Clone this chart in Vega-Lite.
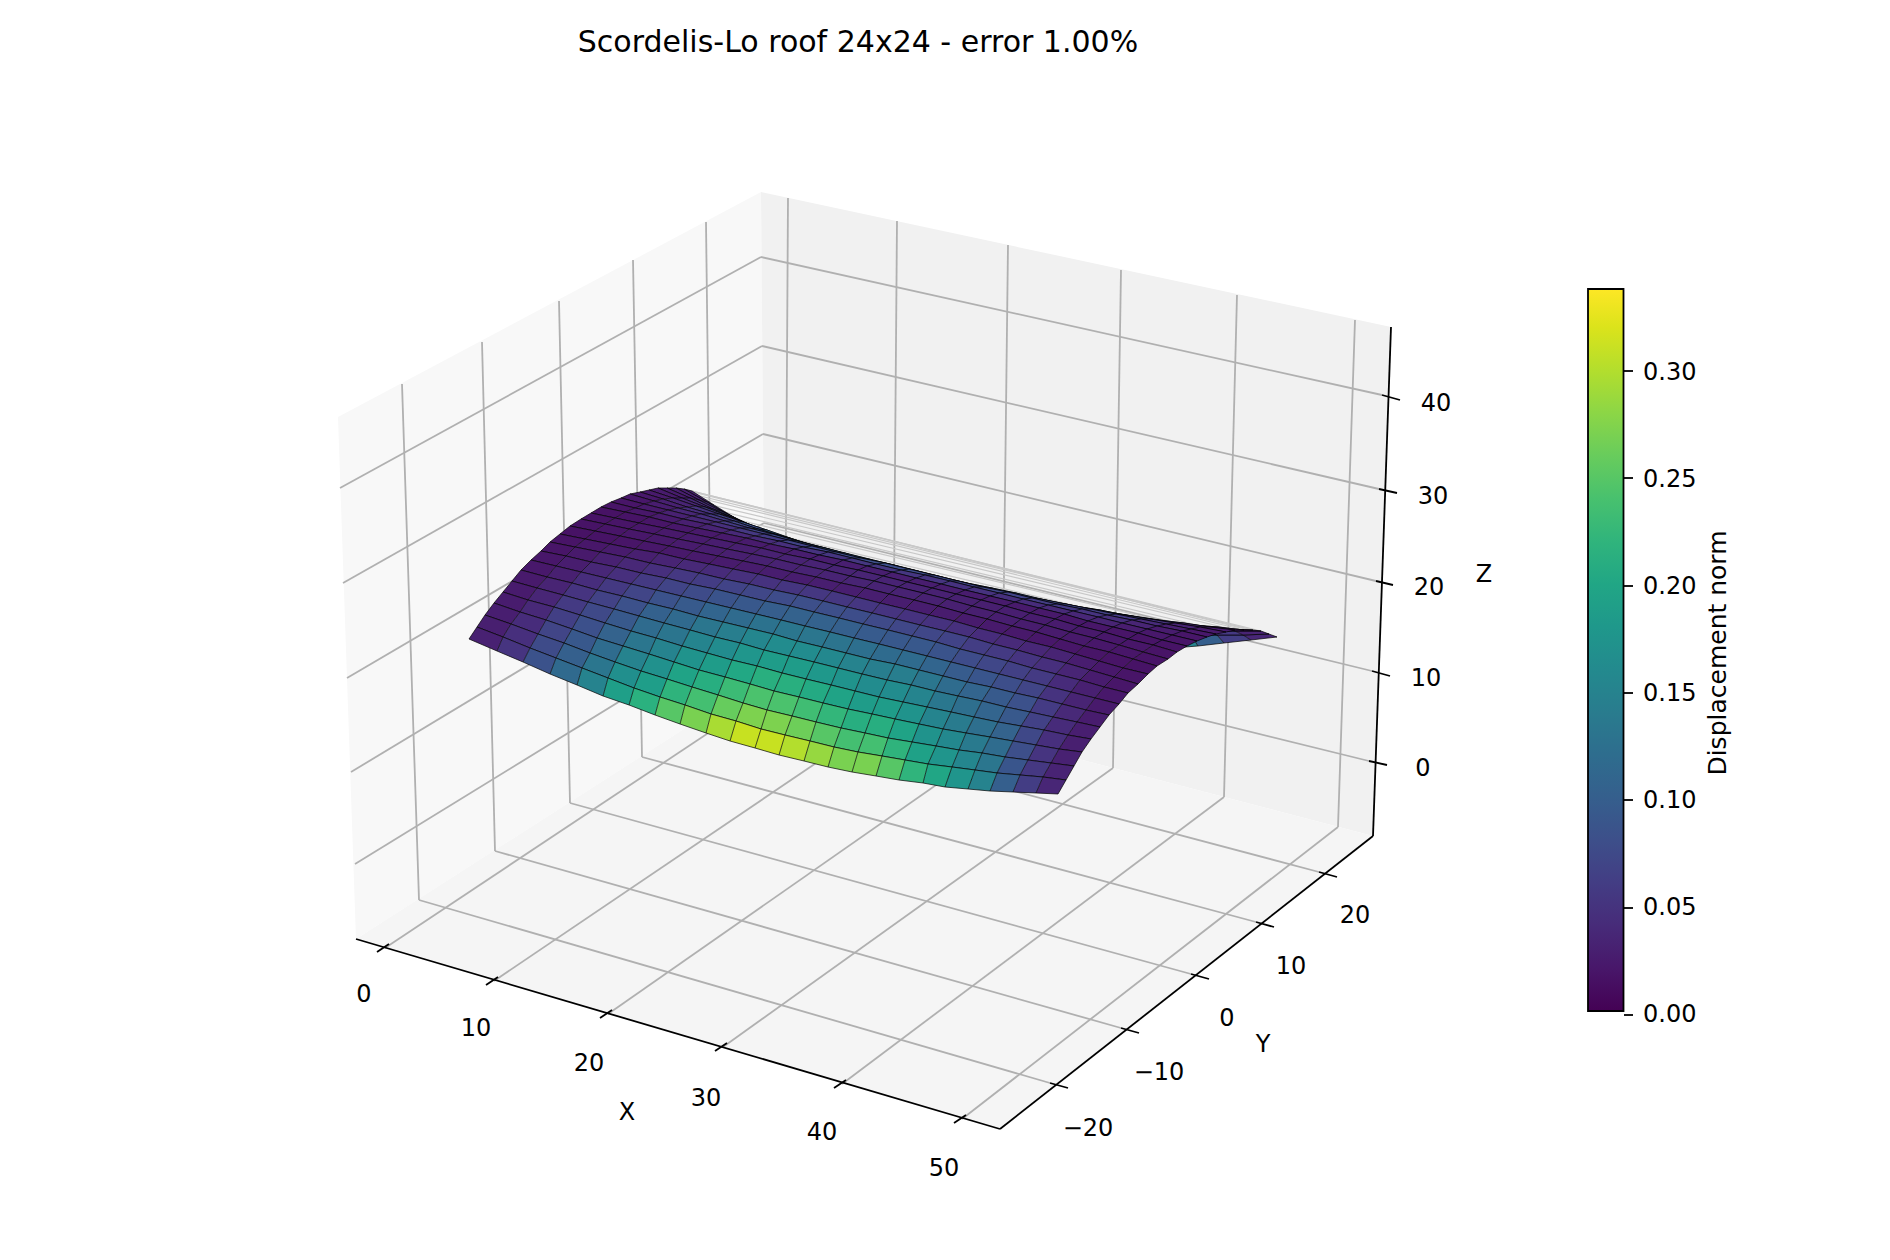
{
  "$schema": "https://vega.github.io/schema/vega-lite/v6.json",
  "width": 1890, "height": 1260, "padding": 0,
  "autosize": {"type": "none"},
  "background": "white",
  "config": {"view": {"stroke": null}, "text": {"font": "DejaVu Sans", "fontSize": 24, "color": "black"}},
  "title": {"text": "Scordelis-Lo roof 24x24 - error 1.00%", "font": "DejaVu Sans", "fontSize": 30, "fontWeight": "normal", "color": "black", "anchor": "middle", "frame": "group", "offset": 0, "dx": -87, "dy": 82, "baseline": "alphabetic"},
  "encoding": {
    "x": {"field": "x", "type": "quantitative", "scale": {"domain": [0, 1890], "nice": false, "zero": false}, "axis": null},
    "y": {"field": "y", "type": "quantitative", "scale": {"domain": [1260, 0], "nice": false, "zero": false}, "axis": null}
  },
  "layer": [
    {"data": {"values": [{"pane": "left", "x": [356, 338, 761, 765], "y": [939, 417, 192, 677]}]},
     "transform": [{"flatten": ["x", "y"]}],
     "mark": {"type": "line", "fill": "#f8f8f8", "strokeWidth": 0},
     "encoding": {"order": {"value": null}}},
    {"data": {"values": [{"pane": "back", "x": [765, 761, 1391, 1373], "y": [677, 192, 327, 836]}]},
     "transform": [{"flatten": ["x", "y"]}],
     "mark": {"type": "line", "fill": "#f1f1f1", "strokeWidth": 0},
     "encoding": {"order": {"value": null}}},
    {"data": {"values": [{"pane": "floor", "x": [356, 1000, 1373, 765], "y": [939, 1129, 836, 677]}]},
     "transform": [{"flatten": ["x", "y"]}],
     "mark": {"type": "line", "fill": "#f5f5f5", "strokeWidth": 0},
     "encoding": {"order": {"value": null}}},
    {"data": {"values": [
      {"x": 788, "y": 198, "x2": 785, "y2": 682},
      {"x": 897, "y": 221, "x2": 893, "y2": 711},
      {"x": 1008, "y": 245, "x2": 1002, "y2": 739},
      {"x": 1121, "y": 270, "x2": 1113, "y2": 768},
      {"x": 1237, "y": 295, "x2": 1224, "y2": 797},
      {"x": 1355, "y": 320, "x2": 1338, "y2": 827},
      {"x": 402, "y": 384, "x2": 419, "y2": 900},
      {"x": 482, "y": 342, "x2": 495, "y2": 851},
      {"x": 559, "y": 301, "x2": 570, "y2": 803},
      {"x": 633, "y": 260, "x2": 642, "y2": 757},
      {"x": 706, "y": 222, "x2": 712, "y2": 711},
      {"x": 340, "y": 488, "x2": 761, "y2": 257},
      {"x": 343, "y": 583, "x2": 762, "y2": 346},
      {"x": 347, "y": 678, "x2": 763, "y2": 434},
      {"x": 351, "y": 772, "x2": 764, "y2": 523},
      {"x": 355, "y": 864, "x2": 765, "y2": 612},
      {"x": 761, "y": 257, "x2": 1382, "y2": 395},
      {"x": 762, "y": 346, "x2": 1379, "y2": 489},
      {"x": 763, "y": 434, "x2": 1376, "y2": 581},
      {"x": 764, "y": 523, "x2": 1372, "y2": 671},
      {"x": 765, "y": 612, "x2": 1369, "y2": 761},
      {"x": 385, "y": 948, "x2": 785, "y2": 682},
      {"x": 494, "y": 981, "x2": 893, "y2": 711},
      {"x": 608, "y": 1014, "x2": 1002, "y2": 739},
      {"x": 723, "y": 1047, "x2": 1113, "y2": 768},
      {"x": 842, "y": 1084, "x2": 1224, "y2": 797},
      {"x": 962, "y": 1119, "x2": 1338, "y2": 827},
      {"x": 419, "y": 900, "x2": 1050, "y2": 1083},
      {"x": 495, "y": 851, "x2": 1121, "y2": 1028},
      {"x": 570, "y": 803, "x2": 1191, "y2": 974},
      {"x": 642, "y": 757, "x2": 1256, "y2": 922},
      {"x": 712, "y": 711, "x2": 1319, "y2": 872}
    ]},
     "mark": {"type": "rule", "color": "#b0b0b0", "strokeWidth": 1.8},
     "encoding": {"x2": {"field": "x2"}, "y2": {"field": "y2"}}},
    {"data": {"values": [
      {"x": 601, "y": 507, "x2": 1187, "y2": 646},
      {"x": 611, "y": 502, "x2": 1197, "y2": 641},
      {"x": 621, "y": 498, "x2": 1207, "y2": 637},
      {"x": 630, "y": 494, "x2": 1216, "y2": 634},
      {"x": 640, "y": 492, "x2": 1226, "y2": 632},
      {"x": 649, "y": 490, "x2": 1235, "y2": 630},
      {"x": 658, "y": 488, "x2": 1244, "y2": 630},
      {"x": 667, "y": 488, "x2": 1253, "y2": 630},
      {"x": 676, "y": 488, "x2": 1261, "y2": 631},
      {"x": 684, "y": 489, "x2": 1269, "y2": 634},
      {"x": 692, "y": 491, "x2": 1277, "y2": 637}
    ]},
     "mark": {"type": "rule", "color": "#c8c8c8", "strokeWidth": 1.2},
     "encoding": {"x2": {"field": "x2"}, "y2": {"field": "y2"}}},
    {"data": {"values": [
      {"x": 356, "y": 939, "x2": 1000, "y2": 1129},
      {"x": 1000, "y": 1129, "x2": 1373, "y2": 836},
      {"x": 1373, "y": 836, "x2": 1391, "y2": 327},
      {"x": 377, "y": 952, "x2": 389, "y2": 944},
      {"x": 486, "y": 985, "x2": 498, "y2": 977},
      {"x": 600, "y": 1018, "x2": 612, "y2": 1010},
      {"x": 715, "y": 1051, "x2": 727, "y2": 1043},
      {"x": 834, "y": 1088, "x2": 846, "y2": 1080},
      {"x": 954, "y": 1123, "x2": 966, "y2": 1115},
      {"x": 1050, "y": 1083, "x2": 1068, "y2": 1088},
      {"x": 1121, "y": 1028, "x2": 1139, "y2": 1033},
      {"x": 1191, "y": 974, "x2": 1209, "y2": 979},
      {"x": 1256, "y": 922, "x2": 1274, "y2": 927},
      {"x": 1319, "y": 872, "x2": 1337, "y2": 877},
      {"x": 1382, "y": 395, "x2": 1400, "y2": 400},
      {"x": 1379, "y": 489, "x2": 1397, "y2": 493},
      {"x": 1376, "y": 581, "x2": 1393, "y2": 585},
      {"x": 1372, "y": 671, "x2": 1390, "y2": 676},
      {"x": 1369, "y": 761, "x2": 1387, "y2": 765},
      {"x": 1624, "y": 1015, "x2": 1633, "y2": 1015},
      {"x": 1624, "y": 908, "x2": 1633, "y2": 908},
      {"x": 1624, "y": 800, "x2": 1633, "y2": 800},
      {"x": 1624, "y": 693, "x2": 1633, "y2": 693},
      {"x": 1624, "y": 586, "x2": 1633, "y2": 586},
      {"x": 1624, "y": 478, "x2": 1633, "y2": 478},
      {"x": 1624, "y": 371, "x2": 1633, "y2": 371}
    ]},
     "mark": {"type": "rule", "color": "black", "strokeWidth": 1.8},
     "encoding": {"x2": {"field": "x2"}, "y2": {"field": "y2"}}},
    {"data": {"values": [
      {"x": 364, "y": 995, "label": "0"},
      {"x": 476, "y": 1029, "label": "10"},
      {"x": 589, "y": 1064, "label": "20"},
      {"x": 706, "y": 1099, "label": "30"},
      {"x": 822, "y": 1133, "label": "40"},
      {"x": 944, "y": 1169, "label": "50"},
      {"x": 627, "y": 1113, "label": "X"},
      {"x": 1088, "y": 1129, "label": "−20"},
      {"x": 1159, "y": 1073, "label": "−10"},
      {"x": 1227, "y": 1019, "label": "0"},
      {"x": 1291, "y": 967, "label": "10"},
      {"x": 1355, "y": 916, "label": "20"},
      {"x": 1263, "y": 1045, "label": "Y"},
      {"x": 1436, "y": 404, "label": "40"},
      {"x": 1433, "y": 497, "label": "30"},
      {"x": 1429, "y": 588, "label": "20"},
      {"x": 1426, "y": 679, "label": "10"},
      {"x": 1423, "y": 769, "label": "0"},
      {"x": 1484, "y": 575, "label": "Z"}
    ]},
     "mark": {"type": "text", "baseline": "middle", "align": "center"},
     "encoding": {"text": {"field": "label"}}},
    {"data": {"values": [
      {"x": 1643, "y": 1015, "label": "0.00"},
      {"x": 1643, "y": 908, "label": "0.05"},
      {"x": 1643, "y": 801, "label": "0.10"},
      {"x": 1643, "y": 694, "label": "0.15"},
      {"x": 1643, "y": 587, "label": "0.20"},
      {"x": 1643, "y": 480, "label": "0.25"},
      {"x": 1643, "y": 373, "label": "0.30"}
    ]},
     "mark": {"type": "text", "baseline": "middle", "align": "left"},
     "encoding": {"text": {"field": "label"}}},
    {"data": {"values": [{"x": 1718, "y": 653, "label": "Displacement norm"}]},
     "mark": {"type": "text", "baseline": "middle", "align": "center", "angle": 270, "fontSize": 25},
     "encoding": {"text": {"field": "label"}}},
    {"data": {"values": [
{"n":0.03,"x":[707,684,692,714],"y":[502,489,491,505]},{"n":0.05,"x":[729,707,714,737],"y":[515,502,505,519]},{"n":0.085,"x":[752,729,737,759],"y":[527,515,519,532]},{"n":0.115,"x":[775,752,759,782],"y":[539,527,532,545]},{"n":0.15,"x":[798,775,782,804],"y":[551,539,545,558]},{"n":0.19,"x":[821,798,804,827],"y":[562,551,558,570]},{"n":0.215,"x":[844,821,827,850],"y":[572,562,570,581]},{"n":0.25,"x":[867,844,850,874],"y":[582,572,581,591]},{"n":0.27,"x":[891,867,874,897],"y":[591,582,591,601]},{"n":0.295,"x":[914,891,897,921],"y":[599,591,601,609]},{"n":0.31,"x":[939,914,921,945],"y":[606,599,609,617]},{"n":0.31,"x":[963,939,945,969],"y":[613,606,617,624]},{"n":0.3,"x":[987,963,969,993],"y":[618,613,624,629]},{"n":0.285,"x":[1012,987,993,1018],"y":[623,618,629,634]},{"n":0.27,"x":[1037,1012,1018,1043],"y":[627,623,634,637]},{"n":0.27,"x":[1062,1037,1043,1069],"y":[630,627,637,640]},{"n":0.25,"x":[1088,1062,1069,1094],"y":[632,630,640,642]},{"n":0.22,"x":[1113,1088,1094,1120],"y":[634,632,642,643]},{"n":0.2,"x":[1139,1113,1120,1146],"y":[635,634,643,643]},{"n":0.175,"x":[1165,1139,1146,1172],"y":[635,635,643,648]},{"n":0.15,"x":[1191,1165,1172,1198],"y":[635,635,648,646]},{"n":0.1,"x":[1217,1191,1198,1224],"y":[635,635,646,643]},{"n":0.06,"x":[1243,1217,1224,1251],"y":[635,635,643,640]},{"n":0.035,"x":[1269,1243,1251,1277,1269],"y":[634,635,640,637,634]},
{"n":0.028,"x":[699,676,684,707],"y":[500,488,489,502]},{"n":0.045,"x":[721,699,707,729],"y":[511,500,502,515]},{"n":0.076,"x":[744,721,729,752],"y":[522,511,515,527]},{"n":0.102,"x":[767,744,752,775],"y":[533,522,527,539]},{"n":0.132,"x":[790,767,775,798],"y":[544,533,539,551]},{"n":0.167,"x":[813,790,798,821],"y":[554,544,551,562]},{"n":0.189,"x":[837,813,821,844],"y":[564,554,562,572]},{"n":0.219,"x":[860,837,844,867],"y":[573,564,572,582]},{"n":0.237,"x":[884,860,867,891],"y":[581,573,582,591]},{"n":0.259,"x":[908,884,891,914],"y":[589,581,591,599]},{"n":0.272,"x":[932,908,914,939],"y":[596,589,599,606]},{"n":0.272,"x":[956,932,939,963],"y":[603,596,606,613]},{"n":0.263,"x":[981,956,963,987],"y":[608,603,613,618]},{"n":0.25,"x":[1005,981,987,1012],"y":[613,608,618,623]},{"n":0.237,"x":[1030,1005,1012,1037],"y":[617,613,623,627]},{"n":0.237,"x":[1055,1030,1037,1062],"y":[621,617,627,630]},{"n":0.219,"x":[1081,1055,1062,1088],"y":[624,621,630,632]},{"n":0.193,"x":[1106,1081,1088,1113],"y":[626,624,632,634]},{"n":0.176,"x":[1132,1106,1113,1139],"y":[628,626,634,635]},{"n":0.154,"x":[1157,1132,1139,1165],"y":[629,628,635,635]},{"n":0.132,"x":[1183,1157,1165,1191],"y":[630,629,635,635]},{"n":0.089,"x":[1209,1183,1191,1217],"y":[631,630,635,635]},{"n":0.054,"x":[1235,1209,1217,1243],"y":[631,631,635,635]},{"n":0.032,"x":[1261,1235,1243,1269,1261],"y":[631,631,635,634,631]},
{"n":0.027,"x":[690,667,676,699],"y":[498,488,488,500]},{"n":0.042,"x":[713,690,699,721],"y":[509,498,500,511]},{"n":0.069,"x":[736,713,721,744],"y":[519,509,511,522]},{"n":0.092,"x":[759,736,744,767],"y":[529,519,522,533]},{"n":0.119,"x":[783,759,767,790],"y":[538,529,533,544]},{"n":0.15,"x":[806,783,790,813],"y":[548,538,544,554]},{"n":0.169,"x":[829,806,813,837],"y":[557,548,554,564]},{"n":0.196,"x":[853,829,837,860],"y":[565,557,564,573]},{"n":0.211,"x":[877,853,860,884],"y":[573,565,573,581]},{"n":0.231,"x":[901,877,884,908],"y":[580,573,581,589]},{"n":0.242,"x":[925,901,908,932],"y":[587,580,589,596]},{"n":0.242,"x":[949,925,932,956],"y":[593,587,596,603]},{"n":0.234,"x":[974,949,956,981],"y":[599,593,603,608]},{"n":0.223,"x":[998,974,981,1005],"y":[604,599,608,613]},{"n":0.211,"x":[1023,998,1005,1030],"y":[608,604,613,617]},{"n":0.211,"x":[1048,1023,1030,1055],"y":[612,608,617,621]},{"n":0.196,"x":[1073,1048,1055,1081],"y":[616,612,621,624]},{"n":0.173,"x":[1098,1073,1081,1106],"y":[619,616,624,626]},{"n":0.157,"x":[1124,1098,1106,1132],"y":[621,619,626,628]},{"n":0.138,"x":[1150,1124,1132,1157],"y":[623,621,628,629]},{"n":0.119,"x":[1175,1150,1157,1183],"y":[625,623,629,630]},{"n":0.08,"x":[1201,1175,1183,1209],"y":[627,625,630,631]},{"n":0.05,"x":[1227,1201,1209,1235],"y":[629,627,631,631]},{"n":0.03,"x":[1253,1227,1235,1261,1253],"y":[630,629,631,631,630]},
{"n":0.025,"x":[682,658,667,690],"y":[498,488,488,498]},{"n":0.038,"x":[705,682,690,713],"y":[507,498,498,509]},{"n":0.062,"x":[728,705,713,736],"y":[516,507,509,519]},{"n":0.082,"x":[751,728,736,759],"y":[525,516,519,529]},{"n":0.105,"x":[775,751,759,783],"y":[534,525,529,538]},{"n":0.132,"x":[798,775,783,806],"y":[542,534,538,548]},{"n":0.149,"x":[822,798,806,829],"y":[550,542,548,557]},{"n":0.172,"x":[845,822,829,853],"y":[558,550,557,565]},{"n":0.186,"x":[869,845,853,877],"y":[566,558,565,573]},{"n":0.203,"x":[893,869,877,901],"y":[573,566,573,580]},{"n":0.213,"x":[917,893,901,925],"y":[579,573,580,587]},{"n":0.213,"x":[942,917,925,949],"y":[585,579,587,593]},{"n":0.206,"x":[966,942,949,974],"y":[591,585,593,599]},{"n":0.196,"x":[991,966,974,998],"y":[596,591,599,604]},{"n":0.186,"x":[1016,991,998,1023],"y":[601,596,604,608]},{"n":0.186,"x":[1041,1016,1023,1048],"y":[605,601,608,612]},{"n":0.172,"x":[1066,1041,1048,1073],"y":[609,605,612,616]},{"n":0.152,"x":[1091,1066,1073,1098],"y":[613,609,616,619]},{"n":0.139,"x":[1116,1091,1098,1124],"y":[616,613,619,621]},{"n":0.122,"x":[1142,1116,1124,1150],"y":[619,616,621,623]},{"n":0.105,"x":[1167,1142,1150,1175],"y":[622,619,623,625]},{"n":0.072,"x":[1193,1167,1175,1201],"y":[625,622,625,627]},{"n":0.045,"x":[1218,1193,1201,1227],"y":[627,625,627,629]},{"n":0.028,"x":[1244,1218,1227,1253,1244],"y":[630,627,629,630,630]},
{"n":0.024,"x":[673,649,658,682],"y":[498,490,488,498]},{"n":0.035,"x":[696,673,682,705],"y":[506,498,498,507]},{"n":0.056,"x":[719,696,705,728],"y":[514,506,507,516]},{"n":0.073,"x":[743,719,728,751],"y":[522,514,516,525]},{"n":0.093,"x":[767,743,751,775],"y":[530,522,525,534]},{"n":0.117,"x":[790,767,775,798],"y":[538,530,534,542]},{"n":0.131,"x":[814,790,798,822],"y":[546,538,542,550]},{"n":0.151,"x":[838,814,822,845],"y":[553,546,550,558]},{"n":0.163,"x":[862,838,845,869],"y":[560,553,558,566]},{"n":0.177,"x":[886,862,869,893],"y":[566,560,566,573]},{"n":0.186,"x":[910,886,893,917],"y":[573,566,573,579]},{"n":0.186,"x":[934,910,917,942],"y":[579,573,579,585]},{"n":0.18,"x":[959,934,942,966],"y":[584,579,585,591]},{"n":0.172,"x":[983,959,966,991],"y":[590,584,591,596]},{"n":0.163,"x":[1008,983,991,1016],"y":[595,590,596,601]},{"n":0.163,"x":[1033,1008,1016,1041],"y":[600,595,601,605]},{"n":0.151,"x":[1058,1033,1041,1066],"y":[604,600,605,609]},{"n":0.134,"x":[1083,1058,1066,1091],"y":[608,604,609,613]},{"n":0.122,"x":[1108,1083,1091,1116],"y":[612,608,613,616]},{"n":0.108,"x":[1133,1108,1116,1142],"y":[616,612,616,619]},{"n":0.093,"x":[1159,1133,1142,1167],"y":[620,616,619,622]},{"n":0.064,"x":[1184,1159,1167,1193],"y":[623,620,622,625]},{"n":0.041,"x":[1210,1184,1193,1218],"y":[627,623,625,627]},{"n":0.027,"x":[1235,1210,1218,1244,1235],"y":[630,627,627,630,630]},
{"n":0.023,"x":[663,640,649,673],"y":[499,492,490,498]},{"n":0.033,"x":[687,663,673,696],"y":[507,499,498,506]},{"n":0.05,"x":[711,687,696,719],"y":[514,507,506,514]},{"n":0.065,"x":[734,711,719,743],"y":[521,514,514,522]},{"n":0.083,"x":[758,734,743,767],"y":[529,521,522,530]},{"n":0.103,"x":[782,758,767,790],"y":[536,529,530,538]},{"n":0.115,"x":[806,782,790,814],"y":[543,536,538,546]},{"n":0.133,"x":[829,806,814,838],"y":[549,543,546,553]},{"n":0.143,"x":[854,829,838,862],"y":[556,549,553,560]},{"n":0.155,"x":[878,854,862,886],"y":[562,556,560,566]},{"n":0.163,"x":[902,878,886,910],"y":[568,562,566,573]},{"n":0.163,"x":[926,902,910,934],"y":[574,568,573,579]},{"n":0.158,"x":[951,926,934,959],"y":[580,574,579,584]},{"n":0.15,"x":[975,951,959,983],"y":[586,580,584,590]},{"n":0.143,"x":[1000,975,983,1008],"y":[591,586,590,595]},{"n":0.143,"x":[1025,1000,1008,1033],"y":[596,591,595,600]},{"n":0.133,"x":[1050,1025,1033,1058],"y":[601,596,600,604]},{"n":0.118,"x":[1075,1050,1058,1083],"y":[606,601,604,608]},{"n":0.108,"x":[1100,1075,1083,1108],"y":[610,606,608,612]},{"n":0.095,"x":[1125,1100,1108,1133],"y":[615,610,612,616]},{"n":0.083,"x":[1150,1125,1133,1159],"y":[619,615,616,620]},{"n":0.058,"x":[1175,1150,1159,1184],"y":[623,619,620,623]},{"n":0.038,"x":[1200,1175,1184,1210],"y":[627,623,623,627]},{"n":0.025,"x":[1226,1200,1210,1235,1226],"y":[632,627,627,630,632]},
{"n":0.021,"x":[654,630,640,663],"y":[501,494,492,499]},{"n":0.029,"x":[678,654,663,687],"y":[508,501,499,507]},{"n":0.043,"x":[701,678,687,711],"y":[514,508,507,514]},{"n":0.055,"x":[725,701,711,734],"y":[521,514,514,521]},{"n":0.069,"x":[749,725,734,758],"y":[528,521,521,529]},{"n":0.085,"x":[773,749,758,782],"y":[534,528,529,536]},{"n":0.095,"x":[797,773,782,806],"y":[541,534,536,543]},{"n":0.109,"x":[821,797,806,829],"y":[547,541,543,549]},{"n":0.117,"x":[845,821,829,854],"y":[553,547,549,556]},{"n":0.127,"x":[869,845,854,878],"y":[559,553,556,562]},{"n":0.133,"x":[894,869,878,902],"y":[565,559,562,568]},{"n":0.133,"x":[918,894,902,926],"y":[571,565,568,574]},{"n":0.129,"x":[942,918,926,951],"y":[577,571,574,580]},{"n":0.123,"x":[967,942,951,975],"y":[583,577,580,586]},{"n":0.117,"x":[992,967,975,1000],"y":[588,583,586,591]},{"n":0.117,"x":[1016,992,1000,1025],"y":[593,588,591,596]},{"n":0.109,"x":[1041,1016,1025,1050],"y":[599,593,596,601]},{"n":0.097,"x":[1066,1041,1050,1075],"y":[604,599,601,606]},{"n":0.089,"x":[1091,1066,1075,1100],"y":[609,604,606,610]},{"n":0.079,"x":[1116,1091,1100,1125],"y":[614,609,610,615]},{"n":0.069,"x":[1141,1116,1125,1150],"y":[619,614,615,619]},{"n":0.049,"x":[1166,1141,1150,1175],"y":[624,619,619,623]},{"n":0.033,"x":[1191,1166,1175,1200],"y":[629,624,623,627]},{"n":0.023,"x":[1216,1191,1200,1226,1216],"y":[634,629,627,632,634]},
{"n":0.02,"x":[644,621,630,654],"y":[504,498,494,501]},{"n":0.026,"x":[668,644,654,678],"y":[510,504,501,508]},{"n":0.036,"x":[692,668,678,701],"y":[516,510,508,514]},{"n":0.045,"x":[716,692,701,725],"y":[522,516,514,521]},{"n":0.056,"x":[740,716,725,749],"y":[528,522,521,528]},{"n":0.068,"x":[764,740,749,773],"y":[534,528,528,534]},{"n":0.075,"x":[788,764,773,797],"y":[540,534,534,541]},{"n":0.086,"x":[812,788,797,821],"y":[546,540,541,547]},{"n":0.092,"x":[836,812,821,845],"y":[552,546,547,553]},{"n":0.099,"x":[861,836,845,869],"y":[558,552,553,559]},{"n":0.104,"x":[885,861,869,894],"y":[563,558,559,565]},{"n":0.104,"x":[909,885,894,918],"y":[569,563,565,571]},{"n":0.101,"x":[934,909,918,942],"y":[575,569,571,577]},{"n":0.096,"x":[958,934,942,967],"y":[581,575,577,583]},{"n":0.092,"x":[983,958,967,992],"y":[587,581,583,588]},{"n":0.092,"x":[1008,983,992,1016],"y":[592,587,588,593]},{"n":0.086,"x":[1032,1008,1016,1041],"y":[598,592,593,599]},{"n":0.077,"x":[1057,1032,1041,1066],"y":[604,598,599,604]},{"n":0.071,"x":[1082,1057,1066,1091],"y":[609,604,604,609]},{"n":0.063,"x":[1107,1082,1091,1116],"y":[615,609,609,614]},{"n":0.056,"x":[1132,1107,1116,1141],"y":[620,615,614,619]},{"n":0.041,"x":[1157,1132,1141,1166],"y":[626,620,619,624]},{"n":0.029,"x":[1182,1157,1166,1191],"y":[631,626,624,629]},{"n":0.021,"x":[1207,1182,1191,1216,1207],"y":[637,631,629,634,637]},
{"n":0.018,"x":[635,611,621,644],"y":[508,502,498,504]},{"n":0.023,"x":[659,635,644,668],"y":[513,508,504,510]},{"n":0.03,"x":[683,659,668,692],"y":[519,513,510,516]},{"n":0.037,"x":[707,683,692,716],"y":[524,519,516,522]},{"n":0.045,"x":[731,707,716,740],"y":[530,524,522,528]},{"n":0.054,"x":[755,731,740,764],"y":[536,530,528,534]},{"n":0.059,"x":[779,755,764,788],"y":[541,536,534,540]},{"n":0.067,"x":[803,779,788,812],"y":[547,541,540,546]},{"n":0.071,"x":[828,803,812,836],"y":[552,547,546,552]},{"n":0.077,"x":[852,828,836,861],"y":[558,552,552,558]},{"n":0.08,"x":[876,852,861,885],"y":[564,558,558,563]},{"n":0.08,"x":[901,876,885,909],"y":[570,564,563,569]},{"n":0.078,"x":[925,901,909,934],"y":[575,570,569,575]},{"n":0.074,"x":[950,925,934,958],"y":[581,575,575,581]},{"n":0.071,"x":[974,950,958,983],"y":[587,581,581,587]},{"n":0.071,"x":[999,974,983,1008],"y":[593,587,587,592]},{"n":0.067,"x":[1023,999,1008,1032],"y":[599,593,592,598]},{"n":0.06,"x":[1048,1023,1032,1057],"y":[605,599,598,604]},{"n":0.056,"x":[1073,1048,1057,1082],"y":[611,605,604,609]},{"n":0.05,"x":[1098,1073,1082,1107],"y":[617,611,609,615]},{"n":0.045,"x":[1122,1098,1107,1132],"y":[623,617,615,620]},{"n":0.034,"x":[1147,1122,1132,1157],"y":[629,623,620,626]},{"n":0.025,"x":[1172,1147,1157,1182],"y":[635,629,626,631]},{"n":0.019,"x":[1197,1172,1182,1207,1197],"y":[641,635,631,637,641]},
{"n":0.017,"x":[625,601,611,635],"y":[512,507,502,508]},{"n":0.02,"x":[649,625,635,659],"y":[517,512,508,513]},{"n":0.024,"x":[673,649,659,683],"y":[523,517,513,519]},{"n":0.028,"x":[697,673,683,707],"y":[528,523,519,524]},{"n":0.033,"x":[722,697,707,731],"y":[533,528,524,530]},{"n":0.038,"x":[746,722,731,755],"y":[538,533,530,536]},{"n":0.041,"x":[770,746,755,779],"y":[544,538,536,541]},{"n":0.046,"x":[794,770,779,803],"y":[549,544,541,547]},{"n":0.048,"x":[819,794,803,828],"y":[555,549,547,552]},{"n":0.051,"x":[843,819,828,852],"y":[560,555,552,558]},{"n":0.053,"x":[867,843,852,876],"y":[566,560,558,564]},{"n":0.053,"x":[892,867,876,901],"y":[572,566,564,570]},{"n":0.052,"x":[916,892,901,925],"y":[578,572,570,575]},{"n":0.05,"x":[941,916,925,950],"y":[584,578,575,581]},{"n":0.048,"x":[965,941,950,974],"y":[590,584,581,587]},{"n":0.048,"x":[990,965,974,999],"y":[596,590,587,593]},{"n":0.046,"x":[1015,990,999,1023],"y":[602,596,593,599]},{"n":0.042,"x":[1039,1015,1023,1048],"y":[608,602,599,605]},{"n":0.039,"x":[1064,1039,1048,1073],"y":[614,608,605,611]},{"n":0.036,"x":[1088,1064,1073,1098],"y":[621,614,611,617]},{"n":0.033,"x":[1113,1088,1098,1122],"y":[627,621,617,623]},{"n":0.026,"x":[1138,1113,1122,1147],"y":[633,627,623,629]},{"n":0.021,"x":[1162,1138,1147,1172],"y":[640,633,629,635]},{"n":0.018,"x":[1187,1162,1172,1197,1187],"y":[646,640,635,641,646]},
{"n":0.015,"x":[615,591,601,625],"y":[518,513,507,512]},{"n":0.016,"x":[639,615,625,649],"y":[523,518,512,517]},{"n":0.018,"x":[664,639,649,673],"y":[528,523,517,523]},{"n":0.02,"x":[688,664,673,697],"y":[533,528,523,528]},{"n":0.022,"x":[712,688,697,722],"y":[538,533,528,533]},{"n":0.023,"x":[736,712,722,746],"y":[543,538,533,538]},{"n":0.024,"x":[761,736,746,770],"y":[548,543,538,544]},{"n":0.025,"x":[785,761,770,794],"y":[554,548,544,549]},{"n":0.026,"x":[810,785,794,819],"y":[559,554,549,555]},{"n":0.026,"x":[834,810,819,843],"y":[565,559,555,560]},{"n":0.027,"x":[858,834,843,867],"y":[570,565,560,566]},{"n":0.027,"x":[883,858,867,892],"y":[576,570,566,572]},{"n":0.027,"x":[907,883,892,916],"y":[582,576,572,578]},{"n":0.026,"x":[932,907,916,941],"y":[588,582,578,584]},{"n":0.026,"x":[956,932,941,965],"y":[594,588,584,590]},{"n":0.025,"x":[981,956,965,990],"y":[600,594,590,596]},{"n":0.024,"x":[1005,981,990,1015],"y":[606,600,596,602]},{"n":0.023,"x":[1030,1005,1015,1039],"y":[613,606,602,608]},{"n":0.022,"x":[1055,1030,1039,1064],"y":[619,613,608,614]},{"n":0.02,"x":[1079,1055,1064,1088],"y":[626,619,614,621]},{"n":0.019,"x":[1104,1079,1088,1113],"y":[632,626,621,627]},{"n":0.018,"x":[1128,1104,1113,1138],"y":[639,632,627,633]},{"n":0.017,"x":[1153,1128,1138,1162],"y":[645,639,633,640]},{"n":0.016,"x":[1177,1153,1162,1187,1177],"y":[652,645,640,646,652]},
{"n":0.016,"x":[605,581,591,615],"y":[524,519,513,518]},{"n":0.018,"x":[629,605,615,639],"y":[529,524,518,523]},{"n":0.02,"x":[654,629,639,664],"y":[534,529,523,528]},{"n":0.022,"x":[678,654,664,688],"y":[539,534,528,533]},{"n":0.024,"x":[703,678,688,712],"y":[544,539,533,538]},{"n":0.026,"x":[727,703,712,736],"y":[549,544,538,543]},{"n":0.028,"x":[752,727,736,761],"y":[554,549,543,548]},{"n":0.03,"x":[776,752,761,785],"y":[559,554,548,554]},{"n":0.031,"x":[801,776,785,810],"y":[565,559,554,559]},{"n":0.032,"x":[825,801,810,834],"y":[570,565,559,565]},{"n":0.032,"x":[850,825,834,858],"y":[576,570,565,570]},{"n":0.033,"x":[874,850,858,883],"y":[581,576,570,576]},{"n":0.032,"x":[898,874,883,907],"y":[587,581,576,582]},{"n":0.031,"x":[923,898,907,932],"y":[593,587,582,588]},{"n":0.03,"x":[947,923,932,956],"y":[599,593,588,594]},{"n":0.029,"x":[972,947,956,981],"y":[606,599,594,600]},{"n":0.028,"x":[996,972,981,1005],"y":[612,606,600,606]},{"n":0.027,"x":[1021,996,1005,1030],"y":[619,612,606,613]},{"n":0.025,"x":[1045,1021,1030,1055],"y":[625,619,613,619]},{"n":0.024,"x":[1070,1045,1055,1079],"y":[632,625,619,626]},{"n":0.022,"x":[1094,1070,1079,1104],"y":[638,632,626,632]},{"n":0.02,"x":[1119,1094,1104,1128],"y":[645,638,632,639]},{"n":0.019,"x":[1143,1119,1128,1153],"y":[652,645,639,645]},{"n":0.017,"x":[1168,1143,1153,1177,1168],"y":[659,652,645,652,659]},
{"n":0.016,"x":[595,570,581,605],"y":[531,526,519,524]},{"n":0.018,"x":[620,595,605,629],"y":[536,531,524,529]},{"n":0.02,"x":[644,620,629,654],"y":[541,536,529,534]},{"n":0.022,"x":[669,644,654,678],"y":[546,541,534,539]},{"n":0.024,"x":[693,669,678,703],"y":[551,546,539,544]},{"n":0.026,"x":[718,693,703,727],"y":[556,551,544,549]},{"n":0.028,"x":[743,718,727,752],"y":[561,556,549,554]},{"n":0.03,"x":[767,743,752,776],"y":[566,561,554,559]},{"n":0.031,"x":[792,767,776,801],"y":[572,566,559,565]},{"n":0.032,"x":[816,792,801,825],"y":[577,572,565,570]},{"n":0.032,"x":[841,816,825,850],"y":[583,577,570,576]},{"n":0.033,"x":[865,841,850,874],"y":[588,583,576,581]},{"n":0.032,"x":[889,865,874,898],"y":[594,588,581,587]},{"n":0.031,"x":[914,889,898,923],"y":[600,594,587,593]},{"n":0.03,"x":[938,914,923,947],"y":[606,600,593,599]},{"n":0.029,"x":[963,938,947,972],"y":[613,606,599,606]},{"n":0.028,"x":[987,963,972,996],"y":[619,613,606,612]},{"n":0.027,"x":[1012,987,996,1021],"y":[626,619,612,619]},{"n":0.025,"x":[1036,1012,1021,1045],"y":[632,626,619,625]},{"n":0.024,"x":[1060,1036,1045,1070],"y":[639,632,625,632]},{"n":0.022,"x":[1084,1060,1070,1094],"y":[646,639,632,638]},{"n":0.02,"x":[1109,1084,1094,1119],"y":[652,646,638,645]},{"n":0.019,"x":[1133,1109,1119,1143],"y":[659,652,645,652]},{"n":0.017,"x":[1157,1133,1143,1168,1157],"y":[666,659,652,659,666]},
{"n":0.015,"x":[585,560,570,595],"y":[539,534,526,531]},{"n":0.016,"x":[610,585,595,620],"y":[544,539,531,536]},{"n":0.018,"x":[635,610,620,644],"y":[549,544,536,541]},{"n":0.02,"x":[659,635,644,669],"y":[553,549,541,546]},{"n":0.022,"x":[684,659,669,693],"y":[559,553,546,551]},{"n":0.023,"x":[709,684,693,718],"y":[564,559,551,556]},{"n":0.024,"x":[733,709,718,743],"y":[569,564,556,561]},{"n":0.025,"x":[758,733,743,767],"y":[574,569,561,566]},{"n":0.026,"x":[782,758,767,792],"y":[580,574,566,572]},{"n":0.026,"x":[807,782,792,816],"y":[585,580,572,577]},{"n":0.027,"x":[832,807,816,841],"y":[591,585,577,583]},{"n":0.027,"x":[856,832,841,865],"y":[597,591,583,588]},{"n":0.027,"x":[880,856,865,889],"y":[603,597,588,594]},{"n":0.026,"x":[905,880,889,914],"y":[609,603,594,600]},{"n":0.026,"x":[929,905,914,938],"y":[615,609,600,606]},{"n":0.025,"x":[954,929,938,963],"y":[621,615,606,613]},{"n":0.024,"x":[978,954,963,987],"y":[628,621,613,619]},{"n":0.023,"x":[1002,978,987,1012],"y":[634,628,619,626]},{"n":0.022,"x":[1026,1002,1012,1036],"y":[641,634,626,632]},{"n":0.02,"x":[1051,1026,1036,1060],"y":[647,641,632,639]},{"n":0.019,"x":[1075,1051,1060,1084],"y":[654,647,639,646]},{"n":0.018,"x":[1099,1075,1084,1109],"y":[661,654,646,652]},{"n":0.017,"x":[1123,1099,1109,1133],"y":[668,661,652,659]},{"n":0.016,"x":[1148,1123,1133,1157,1148],"y":[674,668,659,666,674]},
{"n":0.017,"x":[575,550,560,585],"y":[547,542,534,539]},{"n":0.02,"x":[600,575,585,610],"y":[552,547,539,544]},{"n":0.024,"x":[625,600,610,635],"y":[557,552,544,549]},{"n":0.028,"x":[650,625,635,659],"y":[563,557,549,553]},{"n":0.033,"x":[675,650,659,684],"y":[568,563,553,559]},{"n":0.038,"x":[699,675,684,709],"y":[573,568,559,564]},{"n":0.041,"x":[724,699,709,733],"y":[579,573,564,569]},{"n":0.046,"x":[749,724,733,758],"y":[584,579,569,574]},{"n":0.048,"x":[774,749,758,782],"y":[590,584,574,580]},{"n":0.051,"x":[798,774,782,807],"y":[595,590,580,585]},{"n":0.053,"x":[823,798,807,832],"y":[601,595,585,591]},{"n":0.053,"x":[847,823,832,856],"y":[607,601,591,597]},{"n":0.052,"x":[872,847,856,880],"y":[613,607,597,603]},{"n":0.05,"x":[896,872,880,905],"y":[619,613,603,609]},{"n":0.048,"x":[920,896,905,929],"y":[625,619,609,615]},{"n":0.048,"x":[945,920,929,954],"y":[631,625,615,621]},{"n":0.046,"x":[969,945,954,978],"y":[637,631,621,628]},{"n":0.042,"x":[993,969,978,1002],"y":[644,637,628,634]},{"n":0.039,"x":[1017,993,1002,1026],"y":[650,644,634,641]},{"n":0.036,"x":[1042,1017,1026,1051],"y":[657,650,641,647]},{"n":0.033,"x":[1066,1042,1051,1075],"y":[663,657,647,654]},{"n":0.026,"x":[1090,1066,1075,1099],"y":[670,663,654,661]},{"n":0.021,"x":[1114,1090,1099,1123],"y":[677,670,661,668]},{"n":0.018,"x":[1138,1114,1123,1148,1138],"y":[684,677,668,674,684]},
{"n":0.018,"x":[566,541,550,575],"y":[556,551,542,547]},{"n":0.023,"x":[591,566,575,600],"y":[562,556,547,552]},{"n":0.03,"x":[616,591,600,625],"y":[567,562,552,557]},{"n":0.037,"x":[641,616,625,650],"y":[573,567,557,563]},{"n":0.045,"x":[666,641,650,675],"y":[578,573,563,568]},{"n":0.054,"x":[690,666,675,699],"y":[584,578,568,573]},{"n":0.059,"x":[715,690,699,724],"y":[589,584,573,579]},{"n":0.067,"x":[740,715,724,749],"y":[595,589,579,584]},{"n":0.071,"x":[765,740,749,774],"y":[601,595,584,590]},{"n":0.077,"x":[790,765,774,798],"y":[606,601,590,595]},{"n":0.08,"x":[814,790,798,823],"y":[612,606,595,601]},{"n":0.08,"x":[839,814,823,847],"y":[618,612,601,607]},{"n":0.078,"x":[863,839,847,872],"y":[624,618,607,613]},{"n":0.074,"x":[888,863,872,896],"y":[630,624,613,619]},{"n":0.071,"x":[912,888,896,920],"y":[636,630,619,625]},{"n":0.071,"x":[936,912,920,945],"y":[642,636,625,631]},{"n":0.067,"x":[960,936,945,969],"y":[649,642,631,637]},{"n":0.06,"x":[984,960,969,993],"y":[655,649,637,644]},{"n":0.056,"x":[1008,984,993,1017],"y":[661,655,644,650]},{"n":0.05,"x":[1032,1008,1017,1042],"y":[668,661,650,657]},{"n":0.045,"x":[1056,1032,1042,1066],"y":[674,668,657,663]},{"n":0.034,"x":[1080,1056,1066,1090],"y":[680,674,663,670]},{"n":0.025,"x":[1104,1080,1090,1114],"y":[687,680,670,677]},{"n":0.019,"x":[1128,1104,1114,1138,1128],"y":[693,687,677,684,693]},
{"n":0.02,"x":[556,531,541,566],"y":[566,560,551,556]},{"n":0.026,"x":[581,556,566,591],"y":[572,566,556,562]},{"n":0.036,"x":[606,581,591,616],"y":[578,572,562,567]},{"n":0.045,"x":[631,606,616,641],"y":[584,578,567,573]},{"n":0.056,"x":[656,631,641,666],"y":[590,584,573,578]},{"n":0.068,"x":[681,656,666,690],"y":[596,590,578,584]},{"n":0.075,"x":[706,681,690,715],"y":[602,596,584,589]},{"n":0.086,"x":[731,706,715,740],"y":[608,602,589,595]},{"n":0.092,"x":[756,731,740,765],"y":[614,608,595,601]},{"n":0.099,"x":[781,756,765,790],"y":[620,614,601,606]},{"n":0.104,"x":[805,781,790,814],"y":[626,620,606,612]},{"n":0.104,"x":[830,805,814,839],"y":[632,626,612,618]},{"n":0.101,"x":[854,830,839,863],"y":[638,632,618,624]},{"n":0.096,"x":[879,854,863,888],"y":[644,638,624,630]},{"n":0.092,"x":[903,879,888,912],"y":[650,644,630,636]},{"n":0.092,"x":[927,903,912,936],"y":[656,650,636,642]},{"n":0.086,"x":[951,927,936,960],"y":[662,656,642,649]},{"n":0.077,"x":[975,951,960,984],"y":[668,662,649,655]},{"n":0.071,"x":[999,975,984,1008],"y":[674,668,655,661]},{"n":0.063,"x":[1023,999,1008,1032],"y":[680,674,661,668]},{"n":0.056,"x":[1047,1023,1032,1056],"y":[686,680,668,674]},{"n":0.041,"x":[1071,1047,1056,1080],"y":[692,686,674,680]},{"n":0.029,"x":[1095,1071,1080,1104],"y":[698,692,680,687]},{"n":0.021,"x":[1119,1095,1104,1128,1119],"y":[704,698,687,693,704]},
{"n":0.021,"x":[547,521,531,556],"y":[577,570,560,566]},{"n":0.029,"x":[572,547,556,581],"y":[583,577,566,572]},{"n":0.043,"x":[597,572,581,606],"y":[590,583,572,578]},{"n":0.055,"x":[622,597,606,631],"y":[596,590,578,584]},{"n":0.069,"x":[648,622,631,656],"y":[603,596,584,590]},{"n":0.085,"x":[673,648,656,681],"y":[609,603,590,596]},{"n":0.095,"x":[698,673,681,706],"y":[616,609,596,602]},{"n":0.109,"x":[723,698,706,731],"y":[622,616,602,608]},{"n":0.117,"x":[748,723,731,756],"y":[628,622,608,614]},{"n":0.127,"x":[773,748,756,781],"y":[634,628,614,620]},{"n":0.133,"x":[797,773,781,805],"y":[641,634,620,626]},{"n":0.133,"x":[822,797,805,830],"y":[647,641,626,632]},{"n":0.129,"x":[846,822,830,854],"y":[653,647,632,638]},{"n":0.123,"x":[870,846,854,879],"y":[659,653,638,644]},{"n":0.117,"x":[895,870,879,903],"y":[664,659,644,650]},{"n":0.117,"x":[919,895,903,927],"y":[670,664,650,656]},{"n":0.109,"x":[943,919,927,951],"y":[676,670,656,662]},{"n":0.097,"x":[967,943,951,975],"y":[682,676,662,668]},{"n":0.089,"x":[991,967,975,999],"y":[687,682,668,674]},{"n":0.079,"x":[1015,991,999,1023],"y":[693,687,674,680]},{"n":0.069,"x":[1038,1015,1023,1047],"y":[698,693,680,686]},{"n":0.049,"x":[1062,1038,1047,1071],"y":[704,698,686,692]},{"n":0.033,"x":[1086,1062,1071,1095],"y":[710,704,692,698]},{"n":0.023,"x":[1109,1086,1095,1119,1109],"y":[715,710,698,704,715]},
{"n":0.023,"x":[537,512,521,547],"y":[588,581,570,577]},{"n":0.033,"x":[563,537,547,572],"y":[595,588,577,583]},{"n":0.05,"x":[588,563,572,597],"y":[602,595,583,590]},{"n":0.065,"x":[614,588,597,622],"y":[609,602,590,596]},{"n":0.083,"x":[639,614,622,648],"y":[616,609,596,603]},{"n":0.103,"x":[664,639,648,673],"y":[623,616,603,609]},{"n":0.115,"x":[690,664,673,698],"y":[630,623,609,616]},{"n":0.133,"x":[715,690,698,723],"y":[637,630,616,622]},{"n":0.143,"x":[740,715,723,748],"y":[643,637,622,628]},{"n":0.155,"x":[764,740,748,773],"y":[650,643,628,634]},{"n":0.163,"x":[789,764,773,797],"y":[656,650,634,641]},{"n":0.163,"x":[814,789,797,822],"y":[662,656,641,647]},{"n":0.158,"x":[838,814,822,846],"y":[668,662,647,653]},{"n":0.15,"x":[862,838,846,870],"y":[674,668,653,659]},{"n":0.143,"x":[887,862,870,895],"y":[680,674,659,664]},{"n":0.143,"x":[911,887,895,919],"y":[685,680,664,670]},{"n":0.133,"x":[935,911,919,943],"y":[691,685,670,676]},{"n":0.118,"x":[958,935,943,967],"y":[696,691,676,682]},{"n":0.108,"x":[982,958,967,991],"y":[701,696,682,687]},{"n":0.095,"x":[1006,982,991,1015],"y":[707,701,687,693]},{"n":0.083,"x":[1030,1006,1015,1038],"y":[712,707,693,698]},{"n":0.058,"x":[1053,1030,1038,1062],"y":[717,712,698,704]},{"n":0.038,"x":[1077,1053,1062,1086],"y":[722,717,704,710]},{"n":0.025,"x":[1100,1077,1086,1109,1100],"y":[727,722,710,715,727]},
{"n":0.024,"x":[528,503,512,537],"y":[600,592,581,588]},{"n":0.035,"x":[554,528,537,563],"y":[607,600,588,595]},{"n":0.056,"x":[580,554,563,588],"y":[615,607,595,602]},{"n":0.073,"x":[605,580,588,614],"y":[623,615,602,609]},{"n":0.093,"x":[631,605,614,639],"y":[631,623,609,616]},{"n":0.117,"x":[656,631,639,664],"y":[638,631,616,623]},{"n":0.131,"x":[682,656,664,690],"y":[646,638,623,630]},{"n":0.151,"x":[707,682,690,715],"y":[653,646,630,637]},{"n":0.163,"x":[732,707,715,740],"y":[660,653,637,643]},{"n":0.177,"x":[757,732,740,764],"y":[666,660,643,650]},{"n":0.186,"x":[782,757,764,789],"y":[673,666,650,656]},{"n":0.186,"x":[806,782,789,814],"y":[679,673,656,662]},{"n":0.18,"x":[831,806,814,838],"y":[685,679,662,668]},{"n":0.172,"x":[855,831,838,862],"y":[691,685,668,674]},{"n":0.163,"x":[879,855,862,887],"y":[697,691,674,680]},{"n":0.163,"x":[903,879,887,911],"y":[702,697,680,685]},{"n":0.151,"x":[927,903,911,935],"y":[707,702,685,691]},{"n":0.134,"x":[951,927,935,958],"y":[712,707,691,696]},{"n":0.122,"x":[974,951,958,982],"y":[717,712,696,701]},{"n":0.108,"x":[998,974,982,1006],"y":[722,717,701,707]},{"n":0.093,"x":[1021,998,1006,1030],"y":[726,722,707,712]},{"n":0.064,"x":[1044,1021,1030,1053],"y":[730,726,712,717]},{"n":0.041,"x":[1068,1044,1053,1077],"y":[735,730,717,722]},{"n":0.027,"x":[1091,1068,1077,1100,1091],"y":[739,735,722,727,739]},
{"n":0.025,"x":[520,494,503,528],"y":[612,603,592,600]},{"n":0.038,"x":[546,520,528,554],"y":[620,612,600,607]},{"n":0.062,"x":[572,546,554,580],"y":[629,620,607,615]},{"n":0.082,"x":[597,572,580,605],"y":[638,629,615,623]},{"n":0.105,"x":[623,597,605,631],"y":[646,638,623,631]},{"n":0.132,"x":[649,623,631,656],"y":[654,646,631,638]},{"n":0.149,"x":[674,649,656,682],"y":[662,654,638,646]},{"n":0.172,"x":[699,674,682,707],"y":[670,662,646,653]},{"n":0.186,"x":[725,699,707,732],"y":[677,670,653,660]},{"n":0.203,"x":[750,725,732,757],"y":[684,677,660,666]},{"n":0.213,"x":[774,750,757,782],"y":[691,684,666,673]},{"n":0.213,"x":[799,774,782,806],"y":[697,691,673,679]},{"n":0.206,"x":[823,799,806,831],"y":[703,697,679,685]},{"n":0.196,"x":[848,823,831,855],"y":[709,703,685,691]},{"n":0.186,"x":[872,848,855,879],"y":[714,709,691,697]},{"n":0.186,"x":[895,872,879,903],"y":[719,714,697,702]},{"n":0.172,"x":[919,895,903,927],"y":[724,719,702,707]},{"n":0.152,"x":[943,919,927,951],"y":[729,724,707,712]},{"n":0.139,"x":[966,943,951,974],"y":[733,729,712,717]},{"n":0.122,"x":[990,966,974,998],"y":[737,733,717,722]},{"n":0.105,"x":[1013,990,998,1021],"y":[741,737,722,726]},{"n":0.072,"x":[1036,1013,1021,1044],"y":[745,741,726,730]},{"n":0.045,"x":[1059,1036,1044,1068],"y":[749,745,730,735]},{"n":0.028,"x":[1082,1059,1068,1091,1082],"y":[752,749,735,739,752]},
{"n":0.027,"x":[511,485,494,520],"y":[624,615,603,612]},{"n":0.042,"x":[538,511,520,546],"y":[634,624,612,620]},{"n":0.069,"x":[564,538,546,572],"y":[643,634,620,629]},{"n":0.092,"x":[590,564,572,597],"y":[653,643,629,638]},{"n":0.119,"x":[615,590,597,623],"y":[662,653,638,646]},{"n":0.15,"x":[641,615,623,649],"y":[671,662,646,654]},{"n":0.169,"x":[667,641,649,674],"y":[679,671,654,662]},{"n":0.196,"x":[692,667,674,699],"y":[687,679,662,670]},{"n":0.211,"x":[718,692,699,725],"y":[695,687,670,677]},{"n":0.231,"x":[743,718,725,750],"y":[703,695,677,684]},{"n":0.242,"x":[767,743,750,774],"y":[710,703,684,691]},{"n":0.242,"x":[792,767,774,799],"y":[716,710,691,697]},{"n":0.234,"x":[816,792,799,823],"y":[722,716,697,703]},{"n":0.223,"x":[841,816,823,848],"y":[728,722,703,709]},{"n":0.211,"x":[865,841,848,872],"y":[733,728,709,714]},{"n":0.211,"x":[888,865,872,895],"y":[738,733,714,719]},{"n":0.196,"x":[912,888,895,919],"y":[742,738,719,724]},{"n":0.173,"x":[936,912,919,943],"y":[746,742,724,729]},{"n":0.157,"x":[959,936,943,966],"y":[750,746,729,733]},{"n":0.138,"x":[982,959,966,990],"y":[753,750,733,737]},{"n":0.119,"x":[1005,982,990,1013],"y":[757,753,737,741]},{"n":0.08,"x":[1028,1005,1013,1036],"y":[760,757,741,745]},{"n":0.05,"x":[1051,1028,1036,1059],"y":[763,760,745,749]},{"n":0.03,"x":[1074,1051,1059,1082,1074],"y":[766,763,749,752,766]},
{"n":0.028,"x":[503,477,485,511],"y":[637,627,615,624]},{"n":0.045,"x":[530,503,511,538],"y":[648,637,624,634]},{"n":0.076,"x":[556,530,538,564],"y":[658,648,634,643]},{"n":0.102,"x":[582,556,564,590],"y":[668,658,643,653]},{"n":0.132,"x":[608,582,590,615],"y":[678,668,653,662]},{"n":0.167,"x":[634,608,615,641],"y":[688,678,662,671]},{"n":0.189,"x":[660,634,641,667],"y":[697,688,671,679]},{"n":0.219,"x":[685,660,667,692],"y":[705,697,679,687]},{"n":0.237,"x":[711,685,692,718],"y":[714,705,687,695]},{"n":0.259,"x":[736,711,718,743],"y":[721,714,695,703]},{"n":0.272,"x":[761,736,743,767],"y":[729,721,703,710]},{"n":0.272,"x":[785,761,767,792],"y":[735,729,710,716]},{"n":0.263,"x":[810,785,792,816],"y":[741,735,716,722]},{"n":0.25,"x":[834,810,816,841],"y":[747,741,722,728]},{"n":0.237,"x":[858,834,841,865],"y":[752,747,728,733]},{"n":0.237,"x":[882,858,865,888],"y":[756,752,733,738]},{"n":0.219,"x":[905,882,888,912],"y":[760,756,738,742]},{"n":0.193,"x":[928,905,912,936],"y":[764,760,742,746]},{"n":0.176,"x":[952,928,936,959],"y":[767,764,746,750]},{"n":0.154,"x":[975,952,959,982],"y":[770,767,750,753]},{"n":0.132,"x":[997,975,982,1005],"y":[773,770,753,757]},{"n":0.089,"x":[1020,997,1005,1028],"y":[775,773,757,760]},{"n":0.054,"x":[1043,1020,1028,1051],"y":[777,775,760,763]},{"n":0.032,"x":[1066,1043,1051,1074,1066],"y":[780,777,763,766,780]},
{"n":0.03,"x":[497,469,477,503],"y":[651,639,627,637]},{"n":0.05,"x":[523,497,503,530],"y":[662,651,637,648]},{"n":0.085,"x":[550,523,530,556],"y":[674,662,648,658]},{"n":0.115,"x":[577,550,556,582],"y":[685,674,658,668]},{"n":0.15,"x":[603,577,582,608],"y":[696,685,668,678]},{"n":0.19,"x":[629,603,608,634],"y":[705,696,678,688]},{"n":0.215,"x":[655,629,634,660],"y":[715,705,688,697]},{"n":0.25,"x":[680,655,660,685],"y":[724,715,697,705]},{"n":0.27,"x":[706,680,685,711],"y":[733,724,705,714]},{"n":0.295,"x":[730,706,711,736],"y":[741,733,714,721]},{"n":0.31,"x":[755,730,736,761],"y":[748,741,721,729]},{"n":0.31,"x":[779,755,761,785],"y":[755,748,729,735]},{"n":0.3,"x":[804,779,785,810],"y":[761,755,735,741]},{"n":0.285,"x":[828,804,810,834],"y":[767,761,741,747]},{"n":0.27,"x":[852,828,834,858],"y":[772,767,747,752]},{"n":0.27,"x":[876,852,858,882],"y":[776,772,752,756]},{"n":0.25,"x":[899,876,882,905],"y":[780,776,756,760]},{"n":0.22,"x":[923,899,905,928],"y":[783,780,760,764]},{"n":0.2,"x":[945,923,928,952],"y":[787,783,764,767]},{"n":0.175,"x":[968,945,952,975],"y":[789,787,767,770]},{"n":0.15,"x":[990,968,975,997],"y":[791,789,770,773]},{"n":0.1,"x":[1013,990,997,1020],"y":[792,791,773,775]},{"n":0.06,"x":[1036,1013,1020,1043],"y":[793,792,775,777]},{"n":0.035,"x":[1058,1036,1043,1066,1058],"y":[794,793,777,780,794]}
    ]},
     "transform": [{"window": [{"op": "row_number", "as": "cell"}]}, {"flatten": ["x", "y"]}],
     "mark": {"type": "line", "stroke": "black", "strokeWidth": 0.7},
     "encoding": {
       "detail": {"field": "cell"},
       "order": {"value": null},
       "fill": {"field": "n", "type": "quantitative",
         "scale": {"scheme": "viridis", "domain": [0, 0.338]},
         "legend": {"orient": "none", "legendX": 1588, "legendY": 289, "title": null, "gradientLength": 722, "gradientThickness": 35.5, "direction": "vertical", "labelOpacity": 0, "gradientStrokeColor": "black", "gradientStrokeWidth": 1.8, "padding": 0}}
     }}
  ]
}
